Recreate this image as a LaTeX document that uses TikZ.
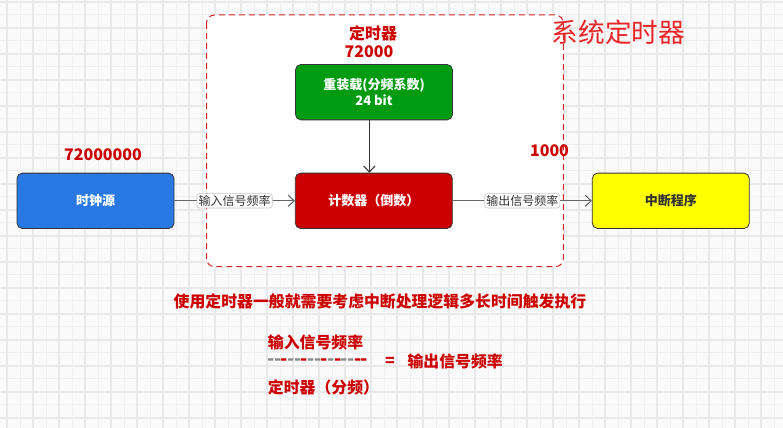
\documentclass[tikz,border=0pt]{standalone}
\usepackage{fontspec}
\usepackage{graphicx}
\setmainfont{Noto Sans CJK SC}
\usetikzlibrary{positioning,arrows.meta}
\definecolor{gridbg}{HTML}{FAFAFA}
\definecolor{gridminor}{HTML}{F0F0F0}
\definecolor{gridmajor}{HTML}{E9E9E9}
\definecolor{clkblue}{HTML}{2A78E4}
\definecolor{cntred}{HTML}{CC0000}
\definecolor{rldgreen}{HTML}{009B11}
\definecolor{irqyellow}{HTML}{FFFF00}
\definecolor{darkred}{HTML}{CC0000}
\definecolor{titlered}{HTML}{E8262A}
\definecolor{edge}{HTML}{666666}
\definecolor{boxline}{HTML}{333333}
\definecolor{framered}{HTML}{CC2A2A}
\definecolor{dashgray}{HTML}{8A8A8A}
\newcommand{\dg}{\textcolor{dashgray}{\makebox[5pt]{\scalebox{1.2}[1.2]{-}}}}
\newcommand{\dr}{\textcolor{darkred}{\makebox[5pt]{\scalebox{1.2}[1.2]{-}}}}

\begin{document}
\begin{tikzpicture}[x=0.75pt,y=-0.75pt,
  font=\fontsize{9.75pt}{12pt}\selectfont\bfseries,
  box/.style={rounded corners=4pt, draw=boxline, line width=0.6pt, text=white, align=center, minimum width=117.75pt, minimum height=41.5pt, inner sep=2pt},
  num/.style={font=\fontsize{12pt}{14pt}\selectfont\bfseries, text=darkred, inner sep=0pt},
  tag/.style={font=\fontsize{9pt}{10pt}\selectfont, text=boxline, fill=white, draw=gray!45, line width=0.5pt, rounded corners=2pt, inner sep=1.2pt},
  note/.style={font=\fontsize{11.9pt}{14pt}\selectfont\bfseries, text=darkred, anchor=west, inner sep=0pt},
  arr/.style={-{Straight Barb[length=4.5pt,width=8.5pt]}, line width=0.8pt, draw=edge},
]
% grid paper
\useasboundingbox (0,0) rectangle (783,428);
\fill[gridbg] (0,0) rectangle (783,428);
\foreach \i in {0,...,61} \draw[gridminor, line width=0.75pt] ({-5.7+13*\i},0) -- ++(0,428);
\foreach \i in {0,...,33} \draw[gridminor, line width=0.75pt] (0,{1.7+13*\i}) -- ++(783,0);
\foreach \i in {0,...,30} \draw[gridmajor, line width=1.5pt] ({7.3+26*\i},0) -- ++(0,428);
\foreach \i in {0,...,16} \draw[gridmajor, line width=1.5pt] (0,{1.7+26*\i}) -- ++(783,0);

% timer frame
\draw[framered, fill=white, dash pattern=on 4.5pt off 3pt, rounded corners=6pt, line width=0.75pt] (206.5,15) rectangle (563.3,266.7);
\node[font=\fontsize{20pt}{24pt}\selectfont, text=titlered] (title) at (618.5,32) {系统定时器};

% blocks
\node[box, fill=clkblue] (clk) at (95.5,200.8) {时钟源};
\node[box, fill=cntred] (cnt) at (373.8,200.8) {计数器（倒数）};
\node[box, fill=irqyellow, text=boxline] (irq) at (670.8,200.8) {中断程序};
\node[box, fill=rldgreen] (rld) at (374,92.2) {重装载(分频系数)\\24 bit};

\node[num] (timerlbl) at (373,33) {定时器};
\node[num] (rldval) at (369,52) {72000};
\node[num] (clkval) at (103,155) {72000000};
\node[num] (irqval) at (549.5,151) {1000};

% connectors
\draw[arr] (clk) -- node[tag] {输入信号频率} (cnt);
\draw[arr] (cnt) -- node[tag] {输出信号频率} (irq);
\draw[arr, draw=boxline] ([xshift=-3.5pt]rld.south) -- ([xshift=-3.5pt]rld.south |- cnt.north);

% formula
\node[note, anchor=center] (hint) at (380,301.7) {使用定时器一般就需要考虑中断处理逻辑多长时间触发执行};
\node[note] (numer) at (267.7,342.3) {输入信号频率};
\node[note] (bar) at (267.7,361.7) {\dg\dg\dr\dg\dg\dr\dg\dg\dr\dg\dr\dg\dg\dr\dr};
\node[note, anchor=center] (eq) at (390,361.7) {=};
\node[note] (res) at (407.3,361.7) {输出信号频率};
\node[note] (denom) at (267.7,387) {定时器（分频）};
\end{tikzpicture}
\end{document}
